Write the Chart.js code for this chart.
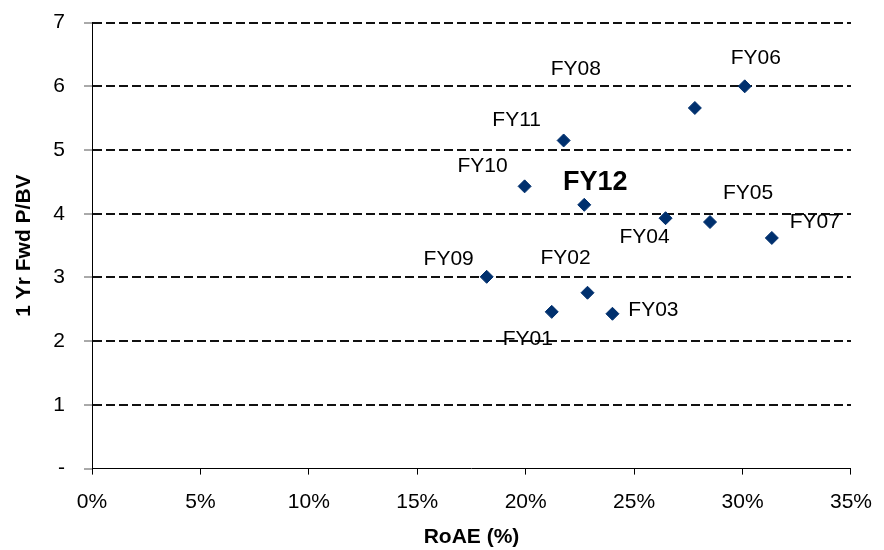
<!DOCTYPE html>
<html>
<head>
<meta charset="utf-8">
<script src="https://cdn.jsdelivr.net/npm/chart.js@4/dist/chart.umd.min.js"></script>
<style>
html,body{margin:0;padding:0;background:#fff;}
#wrap{width:884px;height:550px;overflow:hidden;position:relative;}
#myChart{position:absolute;left:0;top:-9px;}
</style>
</head>
<body>
<div id="wrap"><canvas id="myChart" width="887" height="559"></canvas></div>
<script>
// fiscal years, RoAE (%) and 1 yr forward P/BV
var years=['FY01','FY02','FY03','FY04','FY05','FY06','FY07','FY08','FY09','FY10','FY11','FY12'];
var roae=[21.2, 22.85, 24.0, 26.45, 28.5, 30.1, 31.35, 27.8, 18.2, 19.95, 21.75, 22.7];
var pbv=[2.46, 2.76, 2.43, 3.93, 3.87, 6.0, 3.62, 5.66, 3.01, 4.43, 5.15, 4.14];
var xTicks=[0,5,10,15,20,25,30,35];
var yTicks=['-','1','2','3','4','5','6','7'];

// where each year's label sits relative to its marker (px)
var labelOffset={
    FY01:[-24,27], FY02:[-22,-35], FY03:[41,-4], FY04:[-21,19],
    FY05:[38,-29], FY06:[11,-28], FY07:[43,-16], FY08:[-119,-39],
    FY09:[-38,-18], FY10:[-42,-20], FY11:[-47,-20], FY12:[11,-22]
};

var FONT="'Liberation Sans', Arial, sans-serif";

var pointLabels={
    id:'pointLabels',
    afterDatasetsDraw:function(chart){
        var ctx=chart.ctx;
        var meta=chart.getDatasetMeta(0);
        ctx.save();
        ctx.fillStyle='#000';
        ctx.textAlign='center';
        ctx.textBaseline='middle';
        meta.data.forEach(function(el,i){
            var name=years[i];
            var off=labelOffset[name];
            ctx.font=(name=='FY12') ? "bold 27px "+FONT : "21px "+FONT;
            ctx.fillText(name, el.x+off[0], el.y+off[1]);
        });
        ctx.restore();
    }
};

var ctx=document.getElementById("myChart").getContext("2d");
var myChart=new Chart(ctx,{
    type:'scatter',
    data:{
        datasets:[{
            data:roae.map(function(v,i){ return {x:v, y:pbv[i]}; }),
            pointStyle:'rectRot',
            pointRadius:6.5,
            pointHoverRadius:6.5,
            borderWidth:1,
            backgroundColor:'#00306e',
            borderColor:'#00306e'
        }]
    },
    options:{
        responsive:false,
        animation:false,
        events:[],
        layout:{padding:{left:0,right:31,top:13,bottom:0}},
        plugins:{legend:{display:false},tooltip:{enabled:false}},
        scales:{
            x:{
                type:'linear', min:0, max:35,
                afterFit:function(s){ s.height=81.4; },
                afterBuildTicks:function(s){ s.ticks=xTicks.map(function(v){ return {value:v}; }); },
                ticks:{
                    color:'#000', padding:15,
                    font:{family:FONT,size:21},
                    callback:function(v){ return v+'%'; }
                },
                grid:{drawOnChartArea:false, tickLength:6, tickColor:'#000', tickWidth:1},
                border:{color:'#000', width:1},
                title:{display:true, text:'RoAE (%)', color:'#000',
                    font:{family:FONT,size:21,weight:'bold'}, padding:{top:0,bottom:0}}
            },
            y:{
                type:'linear', min:0, max:7,
                afterFit:function(s){ s.width=92; },
                afterBuildTicks:function(s){ s.ticks=yTicks.map(function(t,i){ return {value:i}; }); },
                ticks:{
                    color:'#000', padding:19,
                    font:{family:FONT,size:21},
                    callback:function(v){ return yTicks[v]; }
                },
                grid:{
                    color:function(c){ return c.tick && c.tick.value===0 ? 'rgba(0,0,0,0)' : '#111'; },
                    lineWidth:2,
                    tickLength:8, tickColor:'#555', tickWidth:1, tickBorderDash:[]
                },
                border:{color:'#000', width:1, dash:[9,4]},
                title:{display:true, text:'1 Yr Fwd P/BV', color:'#000',
                    font:{family:FONT,size:21,weight:'bold'}, padding:{top:12,bottom:0}}
            }
        }
    },
    plugins:[pointLabels]
});
</script>
</body>
</html>
